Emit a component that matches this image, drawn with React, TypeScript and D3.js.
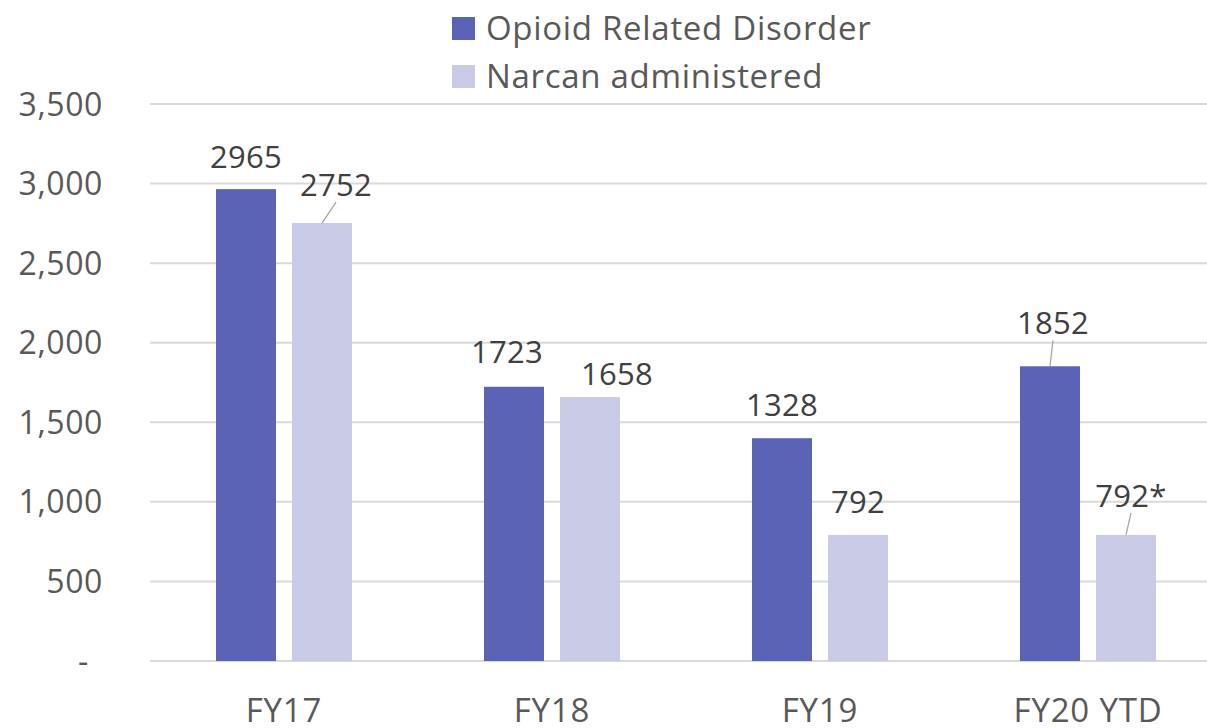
import React from "react";
import * as d3 from "d3";

const categories = ["FY17", "FY18", "FY19", "FY20 YTD"];
const seriesNames = ["Opioid Related Disorder", "Narcan administered"];
const opioidValues = [2965, 1723, 1400, 1852];
const narcanValues = [2752, 1658, 792, 792];
const opioidLabels = ["2965", "1723", "1328", "1852"];
const narcanLabels = ["2752", "1658", "792", "792*"];
const yTicks = [0, 500, 1000, 1500, 2000, 2500, 3000, 3500];

// label placement tweaks (dx, gap above bar, leader line)
const opioidLabelPos = [
  { dx: 0, gap: 21, leader: false },
  { dx: -7, gap: 24, leader: false },
  { dx: 0, gap: 22, leader: false },
  { dx: 3, gap: 32, leader: true },
];
const narcanLabelPos = [
  { dx: 14, gap: 27, leader: true },
  { dx: 27, gap: 12, leader: false },
  { dx: 0, gap: 22, leader: false },
  { dx: 5, gap: 28, leader: true },
];

const colors = ["#5B63B6", "#C9CBE6"];
const FONT = "'Open Sans', Lato, sans-serif";

export default function App() {
  const W = 1207;
  const H = 728;
  const x = d3.scaleBand<string>().domain(categories).range([150, 1222]).padding(0);
  const sub = d3
    .scaleBand<string>()
    .domain(seriesNames)
    .range([66, 202])
    .paddingInner(16 / 76)
    .paddingOuter(0);
  const y = d3.scaleLinear().domain([0, 3500]).range([661, 104]);
  const fmt = d3.format(",");

  const series = [
    { name: seriesNames[0], values: opioidValues, labels: opioidLabels, pos: opioidLabelPos, color: colors[0] },
    { name: seriesNames[1], values: narcanValues, labels: narcanLabels, pos: narcanLabelPos, color: colors[1] },
  ];

  return (
    <svg
      width={W}
      height={H}
      style={{ position: "absolute", left: 0, top: 0, background: "#fff" }}
      fontFamily={FONT}
    >
      {yTicks.map((t) => (
        <g key={t}>
          <line x1={150} x2={W} y1={y(t)} y2={y(t)} stroke="#D9D9D9" strokeWidth={2} />
          <text
            x={t === 0 ? 89 : 103}
            y={y(t)}
            dy="0.36em"
            textAnchor="end"
            fontSize={32}
            letterSpacing={0.6}
            fill="#595959"
          >
            {t === 0 ? "-" : fmt(t)}
          </text>
        </g>
      ))}

      {series.map((s) =>
        categories.map((c, i) => {
          const bx = (x(c) as number) + (sub(s.name) as number);
          const bw = sub.bandwidth();
          const top = y(s.values[i]);
          const cx = bx + bw / 2;
          const p = s.pos[i];
          const ly = top - p.gap;
          return (
            <g key={s.name + c}>
              <rect x={bx} y={top} width={bw} height={y(0) - top} fill={s.color} />
              {p.leader && (
                <line
                  x1={cx + p.dx}
                  y1={ly + 6}
                  x2={cx}
                  y2={top}
                  stroke="#A6A6A6"
                  strokeWidth={1.3}
                />
              )}
              <text x={cx + p.dx} y={ly} textAnchor="middle" fontSize={31} letterSpacing={0.3} fill="#404040">
                {s.labels[i]}
              </text>
            </g>
          );
        })
      )}

      {categories.map((c) => (
        <text
          key={c}
          x={(x(c) as number) + x.bandwidth() / 2}
          y={722}
          textAnchor="middle"
          fontSize={33}
          letterSpacing={0.8}
          fill="#595959"
        >
          {c}
        </text>
      ))}

      {seriesNames.map((n, i) => (
        <g key={n} transform={`translate(452, ${17 + i * 48})`}>
          <rect x={0} y={0} width={23} height={23} fill={colors[i]} />
          <text x={34} y={23} fontSize={33} letterSpacing={0.7} fill="#595959">
            {n}
          </text>
        </g>
      ))}
    </svg>
  );
}
